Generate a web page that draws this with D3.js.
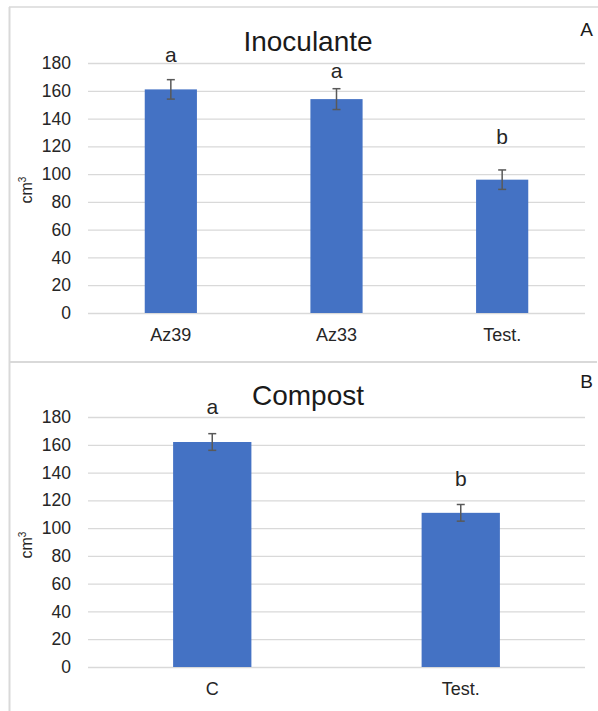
<!DOCTYPE html>
<html>
<head>
<meta charset="utf-8">
<script src="https://cdn.jsdelivr.net/npm/d3@7"></script>
<style>
  html, body { margin: 0; padding: 0; background: #fff; }
  svg { display: block; font-family: "Liberation Sans", Arial, sans-serif; }
</style>
</head>
<body>
<svg id="chart" width="598" height="711"></svg>
<script>
// Panel A: inoculant treatments
const inocCategories = ["Az39", "Az33", "Test."];
const inocValues = [161, 154, 96];
const inocErrors = [7, 7.5, 7];
const inocLetters = ["a", "a", "b"];
// heights (axis units) where the significance letters sit
const inocLetterLevels = [181, 169, 122];

// Panel B: compost treatments
const compCategories = ["C", "Test."];
const compValues = [162, 111];
const compErrors = [6, 6];
const compLetters = ["a", "b"];
const compLetterLevels = [182, 130];

const yTicks = [0, 20, 40, 60, 80, 100, 120, 140, 160, 180];

const svg = d3.select("#chart");
const gridColor = "#d9d9d9";
const barColor = "#4472c4";
const errColor = "#595959";

// frame lines
svg.append("line").attr("x1", 9.5).attr("x2", 9.5).attr("y1", 7).attr("y2", 711)
  .attr("stroke", gridColor).attr("stroke-width", 2);
svg.append("line").attr("x1", 9).attr("x2", 598).attr("y1", 7).attr("y2", 7)
  .attr("stroke", gridColor).attr("stroke-width", 1.5);
svg.append("line").attr("x1", 9).attr("x2", 597).attr("y1", 362).attr("y2", 362)
  .attr("stroke", gridColor).attr("stroke-width", 2);

function panel(cfg) {
  const g = svg.append("g");
  const x = d3.scaleBand().domain(cfg.categories).range([88, 585]).paddingInner(0.685).paddingOuter(0.3425);
  const y = d3.scaleLinear().domain([0, 180]).range([cfg.y0, cfg.y0 - 250]);

  // gridlines + tick labels
  const yAxis = d3.axisLeft(y).tickValues(yTicks).tickSize(-(585 - 88)).tickPadding(17);
  const ag = g.append("g").attr("transform", "translate(88,0)").call(yAxis);
  ag.select(".domain").remove();
  ag.selectAll(".tick line").attr("stroke", gridColor).attr("stroke-width", 1.3);
  ag.selectAll(".tick text").attr("fill", "#262626")
    .style("font-size", "17.5px").style("font-family", "'Liberation Sans', Arial, sans-serif");

  // bars
  g.selectAll("rect.bar").data(cfg.values).join("rect")
    .attr("class", "bar")
    .attr("x", (d, i) => x(cfg.categories[i]))
    .attr("width", x.bandwidth())
    .attr("y", d => y(d))
    .attr("height", d => y(0) - y(d))
    .attr("fill", barColor);

  // error bars
  const eg = g.selectAll("g.err").data(cfg.values).join("g").attr("class", "err")
    .attr("stroke", errColor).attr("stroke-width", 1.5);
  eg.append("line")
    .attr("x1", (d, i) => x(cfg.categories[i]) + x.bandwidth() / 2)
    .attr("x2", (d, i) => x(cfg.categories[i]) + x.bandwidth() / 2)
    .attr("y1", (d, i) => y(d - cfg.errors[i]))
    .attr("y2", (d, i) => y(d + cfg.errors[i]));
  [1, -1].forEach(s => {
    eg.append("line")
      .attr("x1", (d, i) => x(cfg.categories[i]) + x.bandwidth() / 2 - 4)
      .attr("x2", (d, i) => x(cfg.categories[i]) + x.bandwidth() / 2 + 4)
      .attr("y1", (d, i) => y(d + s * cfg.errors[i]))
      .attr("y2", (d, i) => y(d + s * cfg.errors[i]));
  });

  // significance letters
  g.selectAll("text.letter").data(cfg.letters).join("text")
    .attr("class", "letter")
    .attr("x", (d, i) => x(cfg.categories[i]) + x.bandwidth() / 2)
    .attr("y", (d, i) => y(cfg.letterLevels[i]))
    .attr("text-anchor", "middle")
    .attr("fill", "#262626")
    .style("font-size", "21px")
    .text(d => d);

  // category labels
  g.selectAll("text.cat").data(cfg.categories).join("text")
    .attr("class", "cat")
    .attr("x", d => x(d) + x.bandwidth() / 2)
    .attr("y", cfg.y0 + 28)
    .attr("text-anchor", "middle")
    .attr("fill", "#262626")
    .style("font-size", "18px")
    .text(d => d);

  // title
  g.append("text").attr("x", 308).attr("y", cfg.titleY)
    .attr("text-anchor", "middle").attr("fill", "#1a1a1a")
    .style("font-size", "28px").text(cfg.title);

  // panel letter
  g.append("text").attr("x", 593).attr("y", cfg.tagY)
    .attr("text-anchor", "end").attr("fill", "#1a1a1a")
    .style("font-size", "19px").text(cfg.tag);

  // y-axis unit
  const unit = g.append("text")
    .attr("transform", `translate(32,${cfg.unitY}) rotate(-90)`)
    .attr("text-anchor", "middle").attr("fill", "#262626")
    .style("font-size", "16px");
  unit.append("tspan").text("cm");
  unit.append("tspan").attr("dy", -6).style("font-size", "10px").text("3");
}

panel({
  categories: inocCategories, values: inocValues, errors: inocErrors,
  letters: inocLetters, letterLevels: inocLetterLevels,
  y0: 313, title: "Inoculante", titleY: 51, tag: "A", tagY: 36, unitY: 190
});

panel({
  categories: compCategories, values: compValues, errors: compErrors,
  letters: compLetters, letterLevels: compLetterLevels,
  y0: 667, title: "Compost", titleY: 405, tag: "B", tagY: 388, unitY: 545
});
</script>
</body>
</html>
